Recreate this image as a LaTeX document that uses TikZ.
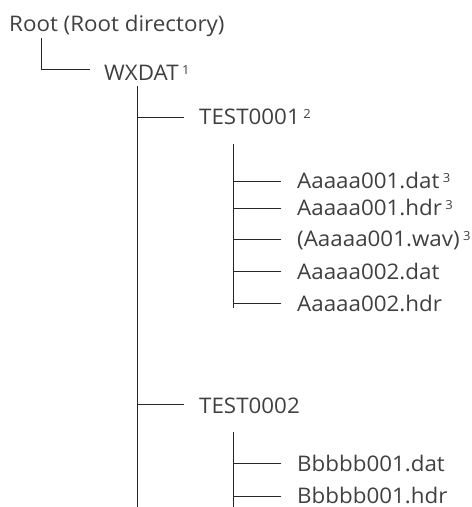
\documentclass[tikz,border=0pt]{standalone}
\usepackage{fontspec}
\setmainfont[FakeStretch=1.04]{Open Sans}
\newcommand{\supnum}[1]{\hspace{3.5pt}{\fontsize{12.5}{13}\selectfont\raisebox{5.5pt}{#1}}}
\begin{document}
\begin{tikzpicture}[x=1pt,y=-1pt,
  lbl/.style={anchor=base west, inner sep=0pt, font=\fontsize{21.5}{25}\selectfont, text=black!75},
  conn/.style={line width=0.9pt, draw=black!85}]
\useasboundingbox (0,0) rectangle (472,507);
% labels
\node[lbl] (root) at (9,31) {Root (Root directory)};
\node[lbl] (wx) at (104,80) {WXDAT\supnum{1}};
\node[lbl] (t1) at (199,124) {TEST0001\supnum{2}};
\node[lbl] (a1) at (297,188) {Aaaaa001.dat\supnum{3}};
\node[lbl] (a2) at (297,215) {Aaaaa001.hdr\supnum{3}};
\node[lbl] (a3) at (297,246) {(Aaaaa001.wav)\supnum{3}};
\node[lbl] (a4) at (297,279) {Aaaaa002.dat};
\node[lbl] (a5) at (297,311) {Aaaaa002.hdr};
\node[lbl] (t2) at (199,413) {TEST0002};
\node[lbl] (b1) at (297,471) {Bbbbb001.dat};
\node[lbl] (b2) at (297,503) {Bbbbb001.hdr};
% connector points
\coordinate (rtop) at (41,38);
\coordinate (rend) at (90,69);
\coordinate (wtop) at (137,86);
\coordinate (wbot) at (137,507);
\coordinate (t1l) at (184,117);
\coordinate (t2l) at (184,404);
\coordinate (atop) at (233,144);
\coordinate (abot) at (233,308);
\coordinate (btop) at (233,432);
\coordinate (bbot) at (233,507);
\coordinate (a1l) at (281,181);
\coordinate (a2l) at (281,208);
\coordinate (a3l) at (281,239);
\coordinate (a4l) at (281,271);
\coordinate (a5l) at (281,303);
\coordinate (b1l) at (281,463);
\coordinate (b2l) at (281,496);
% connectors
\draw[conn] (rtop) |- (rend);
\draw[conn] (wtop) -- (wbot);
\draw[conn] (t1l -| wtop) -- (t1l);
\draw[conn] (t2l -| wtop) -- (t2l);
\draw[conn] (atop) -- (abot);
\foreach \c in {a1l,a2l,a3l,a4l,a5l} \draw[conn] (\c -| atop) -- (\c);
\draw[conn] (btop) -- (bbot);
\foreach \c in {b1l,b2l} \draw[conn] (\c -| btop) -- (\c);
\end{tikzpicture}
\end{document}
